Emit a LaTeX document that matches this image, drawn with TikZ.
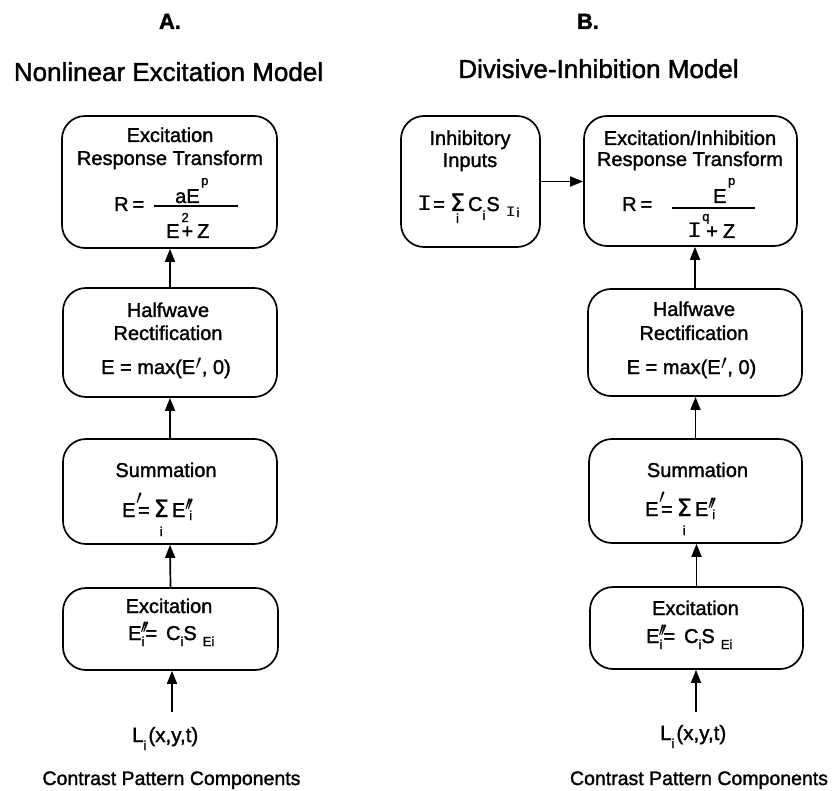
\documentclass[tikz,border=0pt]{standalone}
\usepackage{graphicx}
\usepackage{fontspec}
\setmainfont{Liberation Sans}[FakeBold=1.5]
\newfontfamily\djv{DejaVu Sans}[FakeBold=1.0]
\newfontfamily\dmono{DejaVu Sans Mono}
\usetikzlibrary{arrows.meta}
\newcommand{\bt}{\fontsize{20}{23}\selectfont}
\newcommand{\sbf}{\fontsize{13}{13}\selectfont}
\newcommand{\pr}[1]{\raisebox{#1}{$\prime$}}
\newcommand{\ppr}[1]{\raisebox{#1}{$\prime\mkern-3mu\prime$}}
\newcommand{\II}{\scalebox{1.25}[1]{\dmono I}}
\newcommand{\SG}{{\djv\fontsize{24}{24}\selectfont Σ}}
\newsavebox{\undbox}
\newcommand{\und}[3]{\sbox{\undbox}{#1}\usebox{\undbox}\llap{\makebox[\wd\undbox]{\raisebox{-#2}{\sbf #3}}}}
\begin{document}
\begin{tikzpicture}[x=1pt,y=-1pt,
  box/.style={draw, line width=1.7pt, rounded corners=23pt, inner sep=0pt},
  txt/.style={inner sep=0pt, anchor=base, font=\bt},
  ftx/.style={inner sep=0pt, anchor=base west, font=\bt},
  arr/.style={line width=1.7pt, -{Triangle[length=13pt,width=10pt]}},
  frac/.style={line width=1.4pt}]
\useasboundingbox (0,0) rectangle (832,791);

% headings
\node[inner sep=0pt, anchor=base, font=\bfseries\fontsize{22}{22}\selectfont] (hA) at (170,29) {A.};
\node[inner sep=0pt, anchor=base, font=\bfseries\fontsize{22}{22}\selectfont] (hB) at (588,29) {B.};
\node[inner sep=0pt, anchor=base, font=\fontsize{26}{26}\selectfont] (tA) at (168.5,81) {Nonlinear Excitation Model};
\node[inner sep=0pt, anchor=base, font=\fontsize{26}{26}\selectfont] (tB) at (598.5,78) {Divisive-Inhibition Model};

% ---------------- panel A boxes
\node[box, minimum width=215pt, minimum height=132pt] (a1) at (169.5,182) {};
\node[box, minimum width=214pt, minimum height=109pt] (a2) at (170,342.5) {};
\node[box, minimum width=214pt, minimum height=105pt] (a3) at (170,491.5) {};
\node[box, minimum width=215pt, minimum height=82pt] (a4) at (170.5,629) {};

% A1 text
\node[txt] (a1t1) at (170,142) {Excitation};
\node[txt] (a1t2) at (170,165) {Response Transform};
\node[ftx] (a1r) at (114,211) {R\kern4pt=};
\node[ftx] (a1n) at (175,203) {aE\kern1.5pt\raisebox{18pt}{\sbf p}};
\node[ftx] (a1d) at (166,238) {E\kern2pt\rlap{\raisebox{16pt}{\sbf 2}}+\kern4pt Z};
\draw[frac] (154,206) -- (238,206);

% A2 text
\node[txt] (a2t1) at (168,317) {Halfwave};
\node[txt] (a2t2) at (168,340) {Rectification};
\node[txt] (a2f) at (166,374) {E = max(E\kern0.5pt\pr{5pt}\kern0.5pt, 0)};

% A3 text
\node[txt] (a3t1) at (166,477) {Summation};
\node[ftx] (a3f) at (122,517) {E\kern0.5pt\rlap{\pr{13pt}}\kern2pt=\kern4pt\und{\SG}{19pt}{i}\kern3pt E\rlap{\ppr{7pt}}\kern4pt\raisebox{-3pt}{\sbf i}};

% A4 text
\node[txt] (a4t1) at (169,613) {Excitation};
\node[ftx] (a4f) at (128,640) {E\kern-1pt\rlap{\ppr{7pt}}\kern1pt\raisebox{-6pt}{\sbf i}\kern1pt=\kern9pt C\raisebox{-6pt}{\sbf i}S\kern6pt\raisebox{-6pt}{\sbf Ei}};

% inputs A
\node[inner sep=0pt, anchor=base west, font=\fontsize{20.5}{20.5}\selectfont] (liA) at (132,742) {L\raisebox{-8pt}{\sbf i}\kern2pt(x,y,t)};
\node[inner sep=0pt, anchor=base, font=\fontsize{19.5}{19.5}\selectfont] (cA) at (171.5,785) {Contrast Pattern Components};

% arrows A
\coordinate (sA) at (172,712);
\draw[arr] (sA) -- (sA |- a4.south);
\draw[arr] (a4.north) -- (a3.south);
\draw[arr] (a3.north) -- (a2.south);
\draw[arr] (a2.north) -- (a2.north |- a1.south);

% ---------------- panel B boxes
\node[box, minimum width=139pt, minimum height=131pt] (inh) at (470.5,181.5) {};
\node[box, minimum width=213pt, minimum height=130pt] (b1) at (690.5,181) {};
\node[box, minimum width=214pt, minimum height=107pt] (b2) at (695,342.5) {};
\node[box, minimum width=213pt, minimum height=104pt] (b3) at (695.5,491) {};
\node[box, minimum width=213pt, minimum height=82pt] (b4) at (696.5,628) {};

% inhibitory text
\node[txt] (it1) at (470,145) {Inhibitory};
\node[txt] (it2) at (470,167) {Inputs};
\node[ftx] (if) at (417,211) {\II\kern1pt=\kern5pt\und{\SG}{12pt}{i}\kern3pt C\raisebox{-9pt}{\sbf i}\kern1pt S\kern6pt\raisebox{-6pt}{\sbf\II\kern1pt i}};

% B1 text
\node[txt] (b1t1) at (690,145) {Excitation/Inhibition};
\node[txt] (b1t2) at (690,166) {Response Transform};
\node[ftx] (b1r) at (622,211) {R\kern4pt=};
\node[ftx] (b1n) at (713,203) {E\kern1.5pt\raisebox{18pt}{\sbf p}};
\node[ftx] (b1d) at (687,238) {\II\rlap{\raisebox{17pt}{\sbf q}}\kern4pt+\kern5pt Z};
\draw[frac] (672,208) -- (755,208);

% B2 text
\node[txt] (b2t1) at (694,316) {Halfwave};
\node[txt] (b2t2) at (694,340) {Rectification};
\node[txt] (b2f) at (691.5,374) {E = max(E\kern0.5pt\pr{5pt}\kern0.5pt, 0)};

% B3 text
\node[txt] (b3t1) at (697.5,477) {Summation};
\node[ftx] (b3f) at (645,516) {E\kern0.5pt\rlap{\pr{13pt}}\kern2pt=\kern4pt\und{\SG}{19pt}{i}\kern3pt E\rlap{\ppr{7pt}}\kern4pt\raisebox{-3pt}{\sbf i}};

% B4 text
\node[txt] (b4t1) at (695.5,615) {Excitation};
\node[ftx] (b4f) at (646,643) {E\kern-1pt\rlap{\ppr{7pt}}\kern1pt\raisebox{-6pt}{\sbf i}\kern1pt=\kern9pt C\raisebox{-6pt}{\sbf i}S\kern6pt\raisebox{-6pt}{\sbf Ei}};

% inputs B
\node[inner sep=0pt, anchor=base west, font=\fontsize{20.5}{20.5}\selectfont] (liB) at (660,740) {L\raisebox{-8pt}{\sbf i}\kern2pt(x,y,t)};
\node[inner sep=0pt, anchor=base, font=\fontsize{19.5}{19.5}\selectfont] (cB) at (699,785) {Contrast Pattern Components};

% arrows B
\coordinate (sB) at (696,712);
\draw[arr] (sB) -- (sB |- b4.south);
\draw[arr] (b4.north) -- (b4.north |- b3.south);
\draw[arr] (b3.north) -- (b3.north |- b2.south);
\draw[arr] (b2.north) -- (b2.north |- b1.south);
\draw[arr] (inh.east) -- (inh.east -| b1.west);
\end{tikzpicture}
\end{document}
